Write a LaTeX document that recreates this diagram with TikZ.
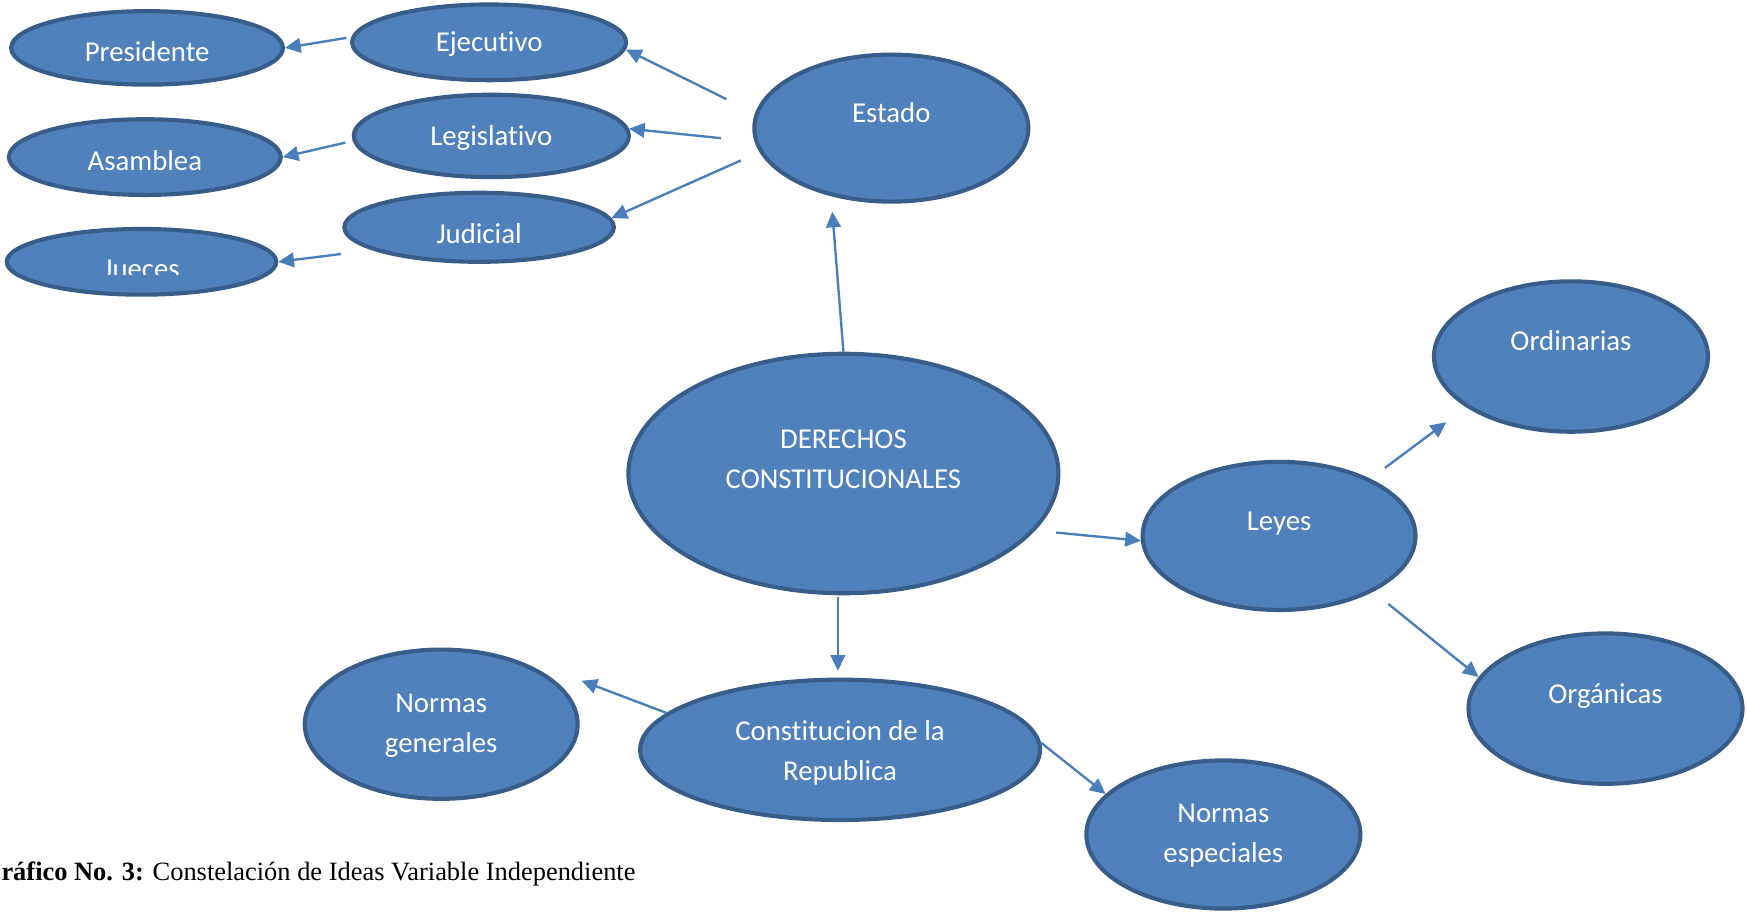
\documentclass[tikz,border=0pt]{standalone}
\usepackage{fontspec}
\setmainfont{Carlito}[Ligatures={NoCommon}]
\newfontfamily\capfont{Liberation Serif}
\usetikzlibrary{shapes.geometric,arrows.meta}
\definecolor{ellfill}{HTML}{4F81BD}
\definecolor{elldraw}{HTML}{385D8A}
\definecolor{arrcol}{HTML}{4A7EBB}
\tikzset{
  x=0.02cm, y=-0.02cm,
  ell/.style={ellipse, draw=elldraw, fill=ellfill, line width=2.1pt, inner sep=0pt},
  txt/.style={text=white, font=\fontsize{14.7}{20.4}\selectfont, align=center, inner sep=0pt, anchor=center},
  conn/.style={draw=arrcol, line width=1.2pt, -{Triangle[length=8pt,width=7.5pt]}}
}
\begin{document}
\begin{tikzpicture}
\useasboundingbox (0,0) rectangle (1568,820);
% ellipses
\node[ell, minimum width=4.88cm, minimum height=1.32cm] (pres) at (132,43) {};
\node[ell, minimum width=4.92cm, minimum height=1.36cm] (ejec) at (439,38) {};
\node[ell, minimum width=4.88cm, minimum height=1.36cm] (asam) at (130,141) {};
\node[ell, minimum width=4.94cm, minimum height=1.48cm] (leg) at (441,122) {};
\node[ell, minimum width=4.84cm, minimum height=1.24cm] (jud) at (430,204) {};
\node[ell, minimum width=4.84cm, minimum height=1.18cm] (jue) at (127,235) {};
\node[ell, minimum width=4.92cm, minimum height=2.64cm] (estado) at (800,115) {};
\node[ell, minimum width=7.72cm, minimum height=4.3cm] (der) at (757,425) {};
\node[ell, minimum width=4.92cm, minimum height=2.7cm] (ord) at (1410,320) {};
\node[ell, minimum width=4.9cm, minimum height=2.66cm] (leyes) at (1148,481) {};
\node[ell, minimum width=4.92cm, minimum height=2.7cm] (org) at (1441,636) {};
\node[ell, minimum width=4.9cm, minimum height=2.68cm] (ng) at (396,650) {};
\node[ell, minimum width=7.18cm, minimum height=2.52cm] (const) at (754,673) {};
\node[ell, minimum width=4.92cm, minimum height=2.66cm] (ne) at (1098,749) {};
% texts
\node[txt] (presT) at (132,46) {Presidente};
\node[txt] (ejecT) at (439,40) {Ejecutivo};
\node[txt] (asamT) at (130,144) {Asamblea};
\node[txt] (legT) at (441,124) {Legislativo};
\node[txt] (judT) at (430,210) {Judicial};
\begin{scope}
\clip (0,200) rectangle (260,246);
\node[txt] (jueT) at (127,242) {Jueces};
\end{scope}
\node[txt] (estadoT) at (800,101) {Estado};
\node[txt] (derT) at (757,412) {DERECHOS\\CONSTITUCIONALES};
\node[txt] (ordT) at (1410,306) {Ordinarias};
\node[txt] (leyesT) at (1148,470) {Leyes};
\node[txt] (orgT) at (1441,625) {Orgánicas};
\node[txt] (ngT) at (396,651) {Normas\\generales};
\node[txt] (constT) at (754,676) {Constitucion de la\\Republica};
\node[txt] (neT) at (1098,750) {Normas\\especiales};
% free connector ends
\coordinate (t1) at (311,34);
\coordinate (t2) at (310,128);
\coordinate (t3) at (306,228);
\coordinate (t4) at (652,89);
\coordinate (t5) at (647,124);
\coordinate (t6) at (665,144);
\coordinate (h7) at (747,190);
\coordinate (t8) at (948,478);
\coordinate (t9) at (1243,420);
\coordinate (h9) at (1298,379);
\coordinate (t10) at (1246,542);
\coordinate (t11) at (752,536);
\coordinate (h11) at (752,602);
\coordinate (h12) at (522,611);
% connectors
\draw[conn] (t1) -- (pres.east);
\draw[conn] (t2) -- (asam.east);
\draw[conn] (t3) -- (jue.east);
\draw[conn] (t4) -- (ejec.-3);
\draw[conn] (t5) -- (leg.3);
\draw[conn] (t6) -- (jud.4);
\draw[conn] (der.north) -- (h7);
\draw[conn] (t8) -- (leyes.182);
\draw[conn] (t9) -- (h9);
\draw[conn] (t10) -- (org.166);
\draw[conn] (t11) -- (h11);
\draw[conn] (const.168) -- (h12);
\draw[conn] (const.2) -- (ne.161);
% caption
\node[anchor=base west, inner sep=0pt, font=\capfont\fontsize{13.5}{16}\selectfont] (cap) at (1,790) {\textbf{ráfico No. 3:} Constelación de Ideas Variable Independiente};
\end{tikzpicture}
\end{document}
